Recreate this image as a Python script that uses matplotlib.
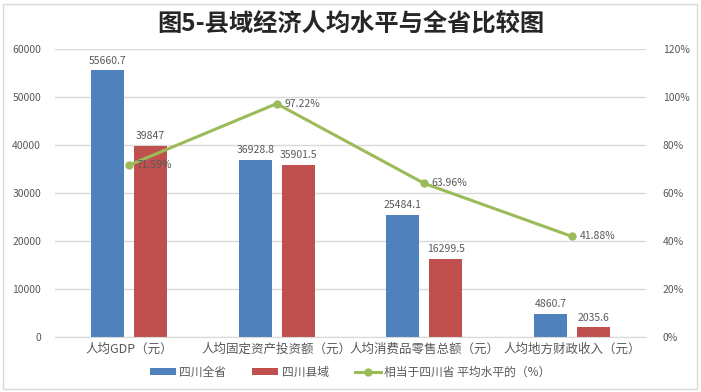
import matplotlib
matplotlib.use("Agg")
import matplotlib.pyplot as plt
from matplotlib.patches import Rectangle
import numpy as np

plt.rcParams['font.family'] = ['Noto Sans CJK SC', 'DejaVu Sans']

categories = ['人均GDP（元）', '人均固定资产投资额（元）', '人均消费品零售总额（元）', '人均地方财政收入（元）']
province = [55660.7, 36928.8, 25484.1, 4860.7]
county = [39847, 35901.5, 16299.5, 2035.6]
ratio = [71.59, 97.22, 63.96, 41.88]
prov_labels = ['55660.7', '36928.8', '25484.1', '4860.7']
county_labels = ['39847', '35901.5', '16299.5', '2035.6']
ratio_labels = ['71.59%', '97.22%', '63.96%', '41.88%']

blue = '#4F81BD'
red = '#C0504D'
green = '#9BBB59'
tc = '#595959'

fig = plt.figure(figsize=(7.01, 3.92), dpi=100)
W, H = 701, 392
ax = fig.add_axes([55 / W, 1 - 337 / H, 591 / W, 288 / H])
ax2 = ax.twinx()

x = np.arange(len(categories))
w = 0.223
off = 0.145
ax.bar(x - off, province, w, color=blue, zorder=2, label='四川全省')
ax.bar(x + off, county, w, color=red, zorder=2, label='四川县域')
for i in range(len(x)):
    ax.text(x[i] - off, province[i] + 900, prov_labels[i], ha='center', va='bottom', fontsize=7.5, color=tc)
    ax.text(x[i] + off, county[i] + 900, county_labels[i], ha='center', va='bottom', fontsize=7.5, color=tc)

ax2.plot(x, ratio, color=green, lw=2.2, marker='o', ms=5, zorder=3, label='相当于四川省 平均水平的（%）')
for i in range(len(x)):
    ax2.text(x[i] + 0.05, ratio[i], ratio_labels[i], ha='left', va='center', fontsize=7.5, color=tc)

ax.set_xlim(-0.5, 3.5)
ax.set_ylim(0, 60000)
ax.set_yticks(np.arange(0, 60001, 10000))
ax2.set_ylim(0, 120)
ax2.set_yticks(np.arange(0, 121, 20))
ax2.set_yticklabels([f'{v}%' for v in range(0, 121, 20)])
ax.grid(axis='y', color='#D9D9D9', lw=1, zorder=0)
ax.set_axisbelow(True)
for a in (ax, ax2):
    for s in a.spines.values():
        s.set_visible(False)
    a.tick_params(length=0, labelsize=7.5, labelcolor=tc)
ax.spines['bottom'].set_visible(True)
ax.spines['bottom'].set_color('#D9D9D9')
ax.set_xticks(x)
ax.set_xticklabels(categories, fontsize=9, color=tc)
ax.tick_params(axis='x', pad=4)
ax.tick_params(axis='y', pad=10)
ax2.tick_params(axis='y', pad=12)

fig.text(0.5, 1 - 24 / H, '图5-县域经济人均水平与全省比较图', ha='center', va='center', fontsize=17.5, fontweight='semibold', color='#262626')

h1, l1 = ax.get_legend_handles_labels()
h2, l2 = ax2.get_legend_handles_labels()
fig.legend(h1 + h2, l1 + l2, loc='center', bbox_to_anchor=(350 / W, 1 - 372 / H), ncol=3, frameon=False,
           fontsize=8.5, labelcolor=tc, handlelength=2.2, handleheight=0.5, handletextpad=0.3,
           columnspacing=2.2)

fig.patches.append(Rectangle((3 / W, 3 / H), 694 / W, 385 / H, transform=fig.transFigure,
                             fill=False, edgecolor='#D9D9D9', lw=1))
fig.savefig('out.png', dpi=100)
